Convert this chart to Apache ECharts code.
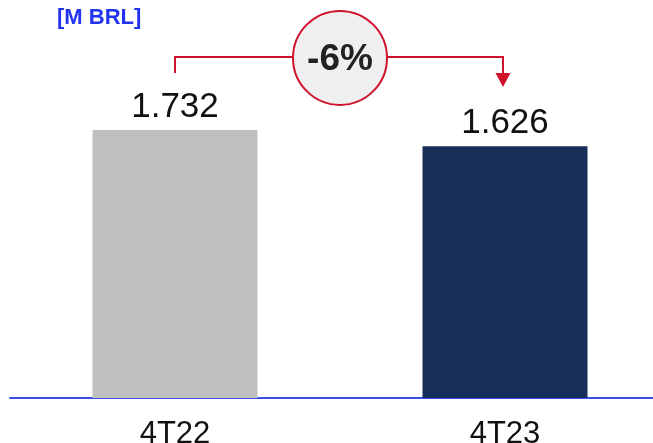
<!DOCTYPE html>
<html><head><meta charset="utf-8">
<script src="https://cdn.jsdelivr.net/npm/echarts@6/dist/echarts.min.js"></script>
<style>html,body{margin:0;padding:0;background:#fff;}#c{width:653px;height:443px;}</style>
</head><body><div id="c"></div>
<script>
const categories = ['4T22', '4T23'];
const values = [1732, 1626];
const barColors = ['#bfbfbf', '#182e5a'];
const unitLabel = '[M BRL]';

const chart = echarts.init(document.getElementById('c'), null, {renderer: 'canvas'});
const fmt = v => (v / 1000).toFixed(3);
chart.setOption({
  animation: false,
  backgroundColor: '#ffffff',
  grid: {left: 10, width: 660, top: 11, height: 387, outerBoundsMode: 'none', containLabel: false},
  title: {
    text: unitLabel, left: 52, top: 2,
    textStyle: {color: '#2233ee', fontSize: 22, fontWeight: 'bold', fontFamily: 'Liberation Sans'}
  },
  xAxis: {
    type: 'category', data: categories,
    axisLine: {lineStyle: {color: '#3a4fe6', width: 2}},
    axisTick: {show: false},
    axisLabel: {color: '#111', fontSize: 31, fontFamily: 'Liberation Sans', margin: 21}
  },
  yAxis: {type: 'value', min: 0, max: 2500, show: false, splitLine: {show: false}},
  series: [{
    type: 'bar', barWidth: '50%',
    data: values.map((v, i) => ({value: v, itemStyle: {color: barColors[i]}})),
    label: {
      show: true, position: 'top', distance: 5,
      formatter: p => fmt(p.value),
      color: '#111', fontSize: 35, fontFamily: 'Liberation Sans'
    }
  }]
});

// annotation bracket computed from chart scales
const p0 = chart.convertToPixel({seriesIndex: 0}, [0, values[0]]);
const p1 = chart.convertToPixel({seriesIndex: 0}, [1, values[1]]);
const lineY = p0[1] - 73;
const leftEndY = p0[1] - 57;
const arrowBaseY = p0[1] - 57;
const arrowTipY = p0[1] - 43;
const cx = (p0[0] + p1[0]) / 2;
const red = '#d0112b';
const pct = Math.round((values[1] / values[0] - 1) * 100);
const pctText = (pct > 0 ? '+' : '') + pct + '%';
chart.setOption({
  graphic: [
    {type: 'polyline', shape: {points: [[p0[0], leftEndY], [p0[0], lineY], [p1[0] - 2, lineY], [p1[0] - 2, arrowBaseY]]},
     style: {stroke: red, lineWidth: 2, fill: null}},
    {type: 'polygon', shape: {points: [[p1[0] - 9.5, arrowBaseY], [p1[0] + 5.5, arrowBaseY], [p1[0] - 2, arrowTipY]]},
     style: {fill: red}},
    {type: 'circle', shape: {cx: cx, cy: lineY + 1, r: 47},
     style: {fill: '#efefef', stroke: red, lineWidth: 2}},
    {type: 'text', x: cx, y: lineY + 3,
     style: {text: pctText, fill: '#222', font: 'bold 37px "Liberation Sans"', align: 'center', verticalAlign: 'middle'}}
  ]
});
</script></body></html>
